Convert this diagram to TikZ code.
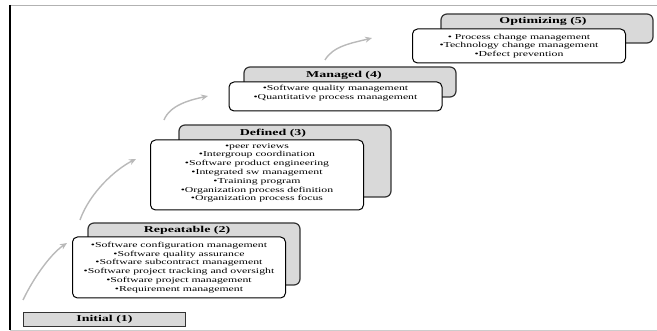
\documentclass[tikz,border=0pt]{standalone}
\usepackage{fontspec}
\setmainfont{Liberation Serif}[FakeStretch=1.55]
\usetikzlibrary{arrows.meta, positioning}

\begin{document}
\begin{tikzpicture}[
        x=1pt, y=-1pt,
        % Style for the shaded card behind each level
        stageback/.style={
            rectangle, rounded corners=6pt, draw=black!80, line width=1.2pt,
            fill=gray!30, minimum width=212pt, inner sep=0pt
        },
        % Style for the white card listing the key practices
        stagefront/.style={
            rectangle, rounded corners=5pt, draw=black, line width=1pt,
            fill=white, minimum width=213pt, align=center, inner sep=0pt,
            font=\fontsize{7.6}{8.8}\selectfont
        },
        stagetitle/.style={font=\fontsize{9}{10}\selectfont\bfseries, inner sep=0pt},
        % Gray curved arrows climbing from level to level
        climb/.style={draw=gray!55, line width=1.4pt, -{Stealth[length=7pt, width=6pt]}}
    ]
        \useasboundingbox (0,0) rectangle (657,331);

        % 1. Frame
        \draw[gray!60, line width=0.8pt] (10,5) -- (657,5);
        \draw[black, line width=1.2pt] (10,5) -- (10,330);
        \draw[gray!40, line width=0.8pt] (10,330) -- (657,330);

        % 2. Initial level
        \node[rectangle, draw=black!80, line width=1.3pt, fill=gray!30,
              minimum width=162pt, minimum height=14pt, inner sep=0pt,
              font=\fontsize{9}{10}\selectfont\bfseries] (initial) at (104.5,319.5) {Initial (1)};

        % 3. Repeatable level
        \node[stageback, minimum height=62pt] (repback) at (194,254) {};
        \node[stagefront, minimum height=61pt] (rep) at (179,267.5) {%
            •Software configuration management\\
            •Software quality assurance\\
            •Software subcontract management\\
            •Software project tracking and oversight\\
            •Software project management\\
            •Requirement management};
        \node[stagetitle] (reptitle) at (187,230) {Repeatable (2)};

        % 4. Defined level
        \node[stageback, minimum height=72pt] (defback) at (285,161) {};
        \node[stagefront, minimum height=70pt, text depth=6pt] (def) at (257,175) {%
            •peer reviews\\
            •Intergroup coordination\\
            •Software product engineering\\
            •Integrated sw management\\
            •Training program\\
            •Organization process definition\\
            •Organization process focus};
        \node[stagetitle] (deftitle) at (273,133) {Defined (3)};

        % 5. Managed level
        \node[stageback, minimum height=30pt] (manback) at (350,82) {};
        \node[stagefront, minimum height=29pt, text depth=9pt] (man) at (335.5,96.5) {%
            •Software quality management\\
            •Quantitative process management};
        \node[stagetitle] (mantitle) at (344,75) {Managed (4)};

        % 6. Optimizing level
        \node[stageback, minimum height=29pt] (optback) at (547,28.5) {};
        \node[stagefront, minimum height=34pt] (opt) at (519,46) {%
            • Process change management\\
            •Technology change management\\
            •Defect prevention};
        \node[stagetitle] (opttitle) at (543,21.5) {Optimizing (5)};

        % 7. Climbing arrows (free ends as named coordinates)
        \coordinate (c1s) at (23,300);  \coordinate (c1e) at (67,243);
        \coordinate (c2s) at (80,220);  \coordinate (c2e) at (136,159);
        \coordinate (c3s) at (164,120); \coordinate (c3e) at (208,96);
        \coordinate (c4s) at (325,60);  \coordinate (c4e) at (372,38);
        \draw[climb] (c1s) .. controls +(12,-25) and +(-15,10) .. (c1e);
        \draw[climb] (c2s) .. controls +(10,-28) and +(-20,10) .. (c2e);
        \draw[climb] (c3s) .. controls +(6,-15) and +(-18,4) .. (c3e);
        \draw[climb] (c4s) .. controls +(8,-14) and +(-20,5) .. (c4e);

    \end{tikzpicture}
\end{document}
